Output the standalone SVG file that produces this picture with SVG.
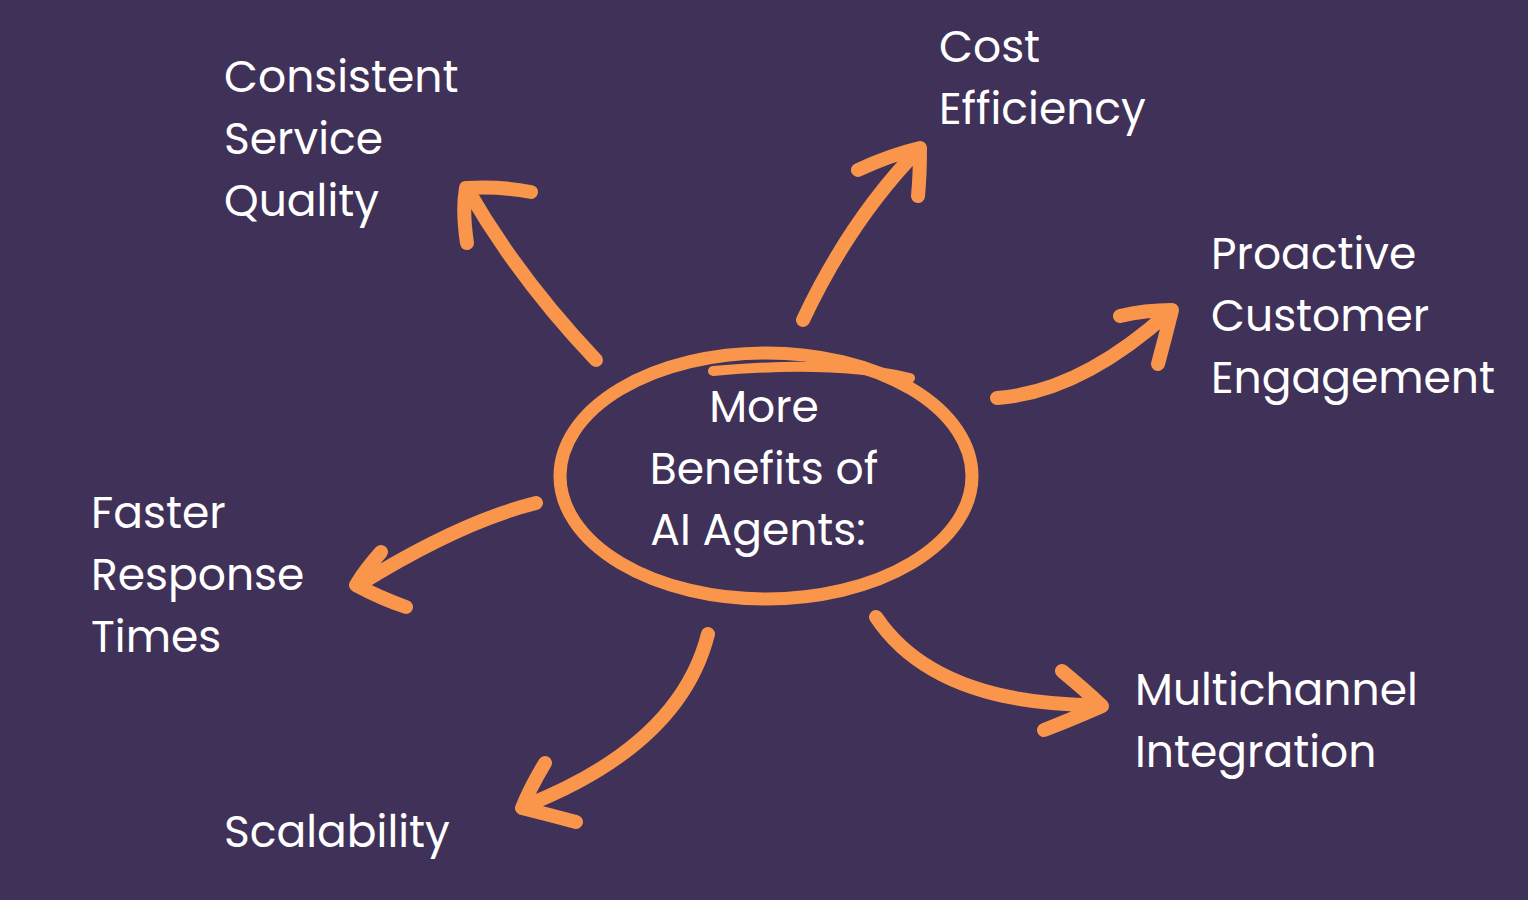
<svg xmlns="http://www.w3.org/2000/svg" width="1528" height="900" viewBox="0 0 1528 900">
<style>
.lbl{font-family:"Poppins","Noto Sans","Liberation Sans",sans-serif;font-size:44px;fill:#ffffff}
.ctr{text-anchor:middle}
.stroke{fill:none;stroke:#f9964c;stroke-linecap:round;stroke-linejoin:round}
.arr{stroke-width:14}
</style>
<rect width="1528" height="900" fill="#3f3158"/>
<g id="center">
<ellipse class="stroke" cx="766" cy="476" rx="206" ry="123" stroke-width="13"/>
<path class="stroke" d="M713,371 C790,364 860,366 910,378" stroke-width="10"/>
<text class="lbl ctr" x="764" y="422">More</text>
<text class="lbl ctr" x="764" y="484">Benefits of</text>
<text class="lbl ctr" x="758" y="545">AI Agents:</text>
</g>
<g id="connectors">
<path class="stroke arr" d="M596,360 Q520,280 469,192 M467,243 Q462,210 466,188 Q500,186 531,192"/>
<path class="stroke arr" d="M803,320 Q850,220 918,150 M858,170 Q890,155 920,148 Q920,175 918,196"/>
<path class="stroke arr" d="M997,398 Q1080,392 1168,313 M1120,316 Q1145,310 1172,310 Q1165,338 1158,364"/>
<path class="stroke arr" d="M536,503 Q460,522 360,584 M381,552 Q365,570 356,585 Q380,598 406,607"/>
<path class="stroke arr" d="M708,634 Q680,745 525,806 M545,763 Q530,788 522,808 Q550,815 576,822"/>
<path class="stroke arr" d="M876,617 Q935,705 1098,705 M1062,671 Q1085,690 1102,706 Q1070,720 1044,730"/>
</g>
<g id="consistent"><text class="lbl" x="224" y="92">Consistent</text><text class="lbl" x="224" y="154">Service</text><text class="lbl" x="224" y="216">Quality</text></g>
<g id="cost"><text class="lbl" x="939" y="62">Cost</text><text class="lbl" x="939" y="124">Efficiency</text></g>
<g id="proactive"><text class="lbl" x="1211" y="269">Proactive</text><text class="lbl" x="1211" y="331">Customer</text><text class="lbl" x="1211" y="393">Engagement</text></g>
<g id="faster"><text class="lbl" x="91" y="528">Faster</text><text class="lbl" x="91" y="590">Response</text><text class="lbl" x="91" y="652">Times</text></g>
<g id="scalability"><text class="lbl" x="224" y="847">Scalability</text></g>
<g id="multichannel"><text class="lbl" x="1135" y="705">Multichannel</text><text class="lbl" x="1135" y="767">Integration</text></g>
</svg>
